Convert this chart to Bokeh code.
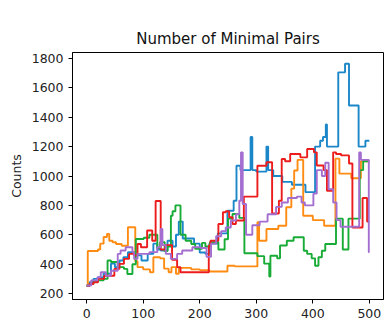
from bokeh.plotting import figure
from bokeh.models import FixedTicker, Range1d
from bokeh.embed import file_html
from bokeh.resources import INLINE

title = "Number of Minimal Pairs"
y_label = "Counts"
x_ticks = [0, 100, 200, 300, 400, 500]
y_ticks = [200, 400, 600, 800, 1000, 1200, 1400, 1600, 1800]

blue_x = [0, 5, 12, 20, 30, 43, 50, 58, 65, 73, 85, 97, 108, 118, 125, 131, 143, 152, 158, 163,
          170, 190, 200, 210, 217, 232, 249, 260, 265, 272, 290, 293, 300, 318, 321, 330, 346, 363,
          387, 404, 413, 418, 423, 425, 445, 457, 464, 481, 493, 500]
blue_y = [253, 277, 300, 310, 336, 404, 380, 425, 447, 482, 460, 425, 470, 540, 500, 493, 560, 520,
          600, 690, 575, 540, 480, 470, 540, 610, 764, 832, 1070, 1040, 1265, 1040, 1030, 1200, 1040,
          1000, 960, 940, 890, 1200, 1240, 1265, 1350, 1200, 1705, 1763, 1480, 1200, 1240, 1240]

orange_x = [0, 2, 20, 24, 30, 36, 40, 46, 52, 62, 73, 86, 90, 100, 112, 118, 130, 137, 145, 150,
            158, 163, 185, 200, 217, 249, 262, 302, 305, 318, 339, 353, 362, 367, 373, 383, 400,
            420, 440, 447, 468, 485, 500]
orange_y = [255, 490, 500, 540, 585, 606, 560, 549, 538, 526, 651, 420, 380, 365, 345, 447, 440,
            370, 345, 380, 335, 375, 365, 360, 350, 390, 385, 685, 560, 640, 662, 787, 914, 1037,
            1110, 730, 700, 662, 1118, 1016, 985, 1100, 1100]

green_x = [0, 5, 12, 20, 30, 37, 43, 55, 66, 72, 81, 87, 101, 111, 125, 130, 138, 143, 149, 152,
           157, 166, 175, 185, 192, 204, 210, 218, 233, 244, 250, 258, 270, 279, 302, 314, 323,
           325, 337, 342, 354, 366, 384, 390, 398, 404, 410, 416, 422, 441, 453, 463, 483, 489, 500]
green_y = [255, 266, 280, 290, 300, 425, 415, 380, 368, 333, 400, 572, 580, 600, 510, 550, 490,
           520, 730, 760, 800, 600, 560, 538, 504, 545, 520, 549, 500, 570, 710, 742, 715, 475,
           455, 404, 316, 458, 440, 527, 560, 583, 492, 470, 440, 390, 447, 492, 538, 710, 500,
           710, 1040, 1100, 1100]

red_x = [0, 5, 12, 20, 31, 49, 58, 66, 75, 84, 90, 96, 107, 116, 122, 131, 139, 151, 160, 166,
         216, 219, 233, 241, 246, 252, 258, 264, 278, 302, 318, 328, 340, 345, 351, 360, 369, 378,
         390, 402, 407, 419, 425, 436, 441, 450, 464, 470, 488, 496, 500]
red_y = [254, 265, 277, 300, 322, 368, 402, 436, 470, 460, 538, 515, 629, 560, 830, 500, 530, 430,
         380, 345, 526, 560, 674, 753, 760, 719, 674, 697, 860, 1070, 1094, 745, 832, 1116, 1100,
         1150, 1150, 1127, 1184, 1161, 1071, 1040, 900, 1161, 1150, 1140, 1085, 650, 850, 690, 690]

purple_x = [0, 8, 19, 25, 34, 43, 55, 60, 69, 81, 84, 90, 111, 125, 131, 134, 140, 149, 160, 169,
            187, 202, 212, 220, 229, 238, 246, 255, 264, 270, 273, 276, 282, 293, 306, 320, 335,
            345, 356, 372, 380, 386, 401, 407, 416, 422, 428, 436, 442, 449, 482, 485, 499, 500]
purple_y = [255, 290, 311, 345, 322, 356, 470, 493, 515, 482, 436, 470, 482, 515, 640, 530, 470,
            436, 470, 493, 515, 510, 450, 540, 590, 625, 650, 697, 740, 832, 1161, 810, 600, 665,
            690, 740, 790, 820, 850, 860, 820, 800, 880, 1040, 1000, 1090, 910, 820, 700, 655,
            1160, 1110, 481, 481]

series = [
    (blue_x, blue_y, "#1b87c9"),
    (orange_x, orange_y, "#ff8c12"),
    (green_x, green_y, "#18ab36"),
    (red_x, red_y, "#ec1c1c"),
    (purple_x, purple_y, "#a46dd0"),
]

p = figure(width=385, height=335, output_backend="svg", toolbar_location=None,
           x_range=Range1d(-25, 525), y_range=Range1d(160, 1840),
           min_border_left=72, min_border_right=2, min_border_top=52, min_border_bottom=36)

for xs, ys, c in series:
    p.step(xs, ys, mode="after", line_width=1.9, line_color=c)

p.title.text = title
p.title.align = "center"
p.title.text_font = "DejaVu Sans"
p.title.text_font_size = "15px"
p.title.text_font_style = "normal"
p.title.text_color = "#111111"

p.xgrid.visible = False
p.ygrid.visible = False
p.outline_line_color = "black"
p.outline_line_width = 1
p.outline_line_alpha = 1
p.background_fill_color = "white"
p.border_fill_color = "white"

p.xaxis.ticker = FixedTicker(ticks=x_ticks)
p.yaxis.ticker = FixedTicker(ticks=y_ticks)
for ax in (p.xaxis[0], p.yaxis[0]):
    ax.major_tick_out = 4
    ax.major_tick_in = 0
    ax.minor_tick_out = 0
    ax.minor_tick_in = 0
    ax.axis_line_color = "black"
    ax.major_tick_line_color = "black"
    ax.major_label_text_font = "DejaVu Sans"
    ax.major_label_text_font_size = "12.5px"
    ax.major_label_text_color = "#222222"
    ax.major_label_standoff = 5

p.yaxis.axis_label = y_label
p.yaxis.axis_label_text_font = "DejaVu Sans"
p.yaxis.axis_label_text_font_size = "12.5px"
p.yaxis.axis_label_text_font_style = "normal"
p.yaxis.axis_label_text_color = "#222222"
p.yaxis.axis_label_standoff = 5

open("out.html", "w").write(file_html(p, INLINE))
